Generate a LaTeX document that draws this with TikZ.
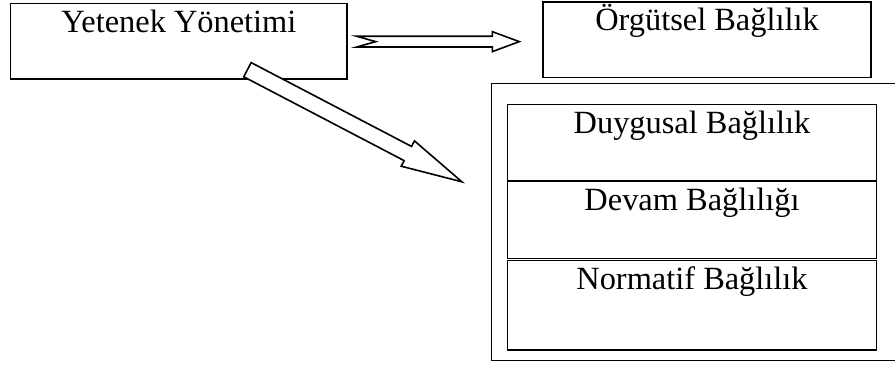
\documentclass[tikz,border=0pt]{standalone}
\usepackage{fontspec}
\setmainfont{Liberation Serif}
\usetikzlibrary{calc}

\begin{document}
\begin{tikzpicture}[
  x=0.5pt, y=-0.5pt,
  box/.style={rectangle, draw, line width=0.7pt, inner sep=0pt},
  lbl/.style={anchor=base, yshift=-14.8pt, inner sep=0pt, font=\fontsize{16.2}{19}\selectfont},
  hollow/.style={draw, fill=white, line width=0.8pt, line join=miter},
]
\useasboundingbox (0,0) rectangle (895,367);

% --- main boxes ---
\node[box, minimum width=168.15pt, minimum height=37.85pt,
      label={[lbl]north:Yetenek Yönetimi}] (yt) at (178.85,41.15) {};
\node[box, minimum width=164pt, minimum height=37.85pt,
      label={[lbl]north:Örgütsel Bağlılık}] (org) at (707,39.85) {};

% --- commitment group ---
\node[box, minimum width=206.65pt, minimum height=138.6pt] (grp) at (698.35,221.9) {};
\node[box, minimum width=184.7pt, minimum height=38.1pt,
      label={[lbl]north:Duygusal Bağlılık}] (duy) at (692,142.4) {};
\node[box, minimum width=184.7pt, minimum height=38.4pt,
      label={[lbl]north:Devam Bağlılığı}] (dev) at (692,219.9) {};
\node[box, minimum width=184.7pt, minimum height=44.65pt,
      label={[lbl]north:Normatif Bağlılık}] (nor) at (692,305.35) {};

% notched arrow to the right
\coordinate (ha) at ($(yt.east)+(9,0.5)$);
\coordinate (hb) at ($(ha -| org.west)+(-23,0)$);
\draw[hollow] ($(ha)+(0,-5.4)$) -- ($(hb)+(-27,-5.4)$) -- ($(hb)+(-27,-10)$)
  -- (hb) -- ($(hb)+(-27,10)$) -- ($(hb)+(-27,5.4)$) -- ($(ha)+(0,5.4)$)
  -- ($(ha)+(19,0)$) -- cycle;

% slanted arrow down to the group
\coordinate (da) at ($(yt.south)+(68.6,-10)$);
\begin{scope}[shift={(da)}, rotate=-27.6]
\draw[hollow] (0,-8) -- (181,-8) -- (181,-14.3) -- (242,0) -- (181,14.3)
  -- (181,8) -- (0,8) -- cycle;
\end{scope}

\end{tikzpicture}
\end{document}
